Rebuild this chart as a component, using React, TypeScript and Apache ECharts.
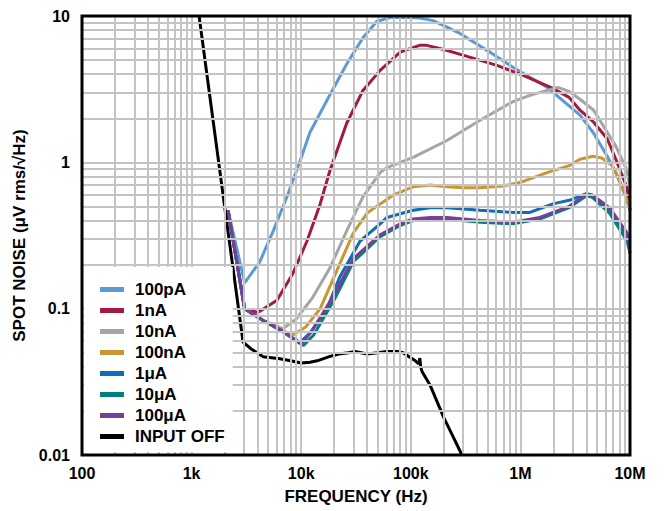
import React, { useEffect, useRef } from "react";
import * as echarts from "echarts";

const FONT = 'Arial, "Liberation Sans", sans-serif';

const seriesNames = ["100pA", "1nA", "10nA", "100nA", "1μA", "10μA", "100μA", "INPUT OFF"];
const seriesColors = ["#5B9BD5", "#A5193E", "#A5A5A5", "#C9972C", "#0F6DB8", "#00827A", "#773E9C", "#000000"];

// [frequency Hz, noise µV rms/√Hz]
const s100pA: [number, number][] = [
  [2150, 0.47], [3050, 0.15], [4200, 0.21], [5560, 0.34], [7400, 0.58], [9800, 1.03],
  [12000, 1.6], [18300, 2.9], [26000, 4.7], [36600, 7.1], [49000, 9.2], [65000, 9.75],
  [90000, 9.8], [120000, 9.7], [160000, 9.3], [214000, 8.4], [281000, 7.6], [500000, 5.8],
  [855000, 4.46], [1750000, 3.26], [3500000, 2.1], [4660000, 1.58], [6200000, 1.1],
  [7500000, 0.84], [9400000, 0.55], [10000000, 0.47],
];
const s1nA: [number, number][] = [
  [2150, 0.47], [3050, 0.1], [4030, 0.094], [6010, 0.114], [8400, 0.174], [11300, 0.29],
  [14900, 0.52], [18300, 0.88], [22400, 1.35], [26000, 1.85], [36600, 3.1], [52500, 4.25],
  [80000, 5.66], [120000, 6.3], [140000, 6.3], [200000, 5.9], [299000, 5.4], [611000, 4.6],
  [1060000, 3.93], [1980000, 3.2], [2780000, 2.78], [3500000, 2.27], [4660000, 1.88],
  [6200000, 1.45], [7500000, 1.03], [9400000, 0.67], [10000000, 0.47],
];
const s10nA: [number, number][] = [
  [2150, 0.47], [3050, 0.1], [4500, 0.083], [6800, 0.073], [9000, 0.085], [12800, 0.12],
  [18300, 0.19], [26000, 0.34], [36600, 0.58], [52500, 0.85], [60600, 0.92], [105000, 1.08],
  [214000, 1.41], [428000, 1.94], [855000, 2.6], [1220000, 2.87], [2200000, 3.25],
  [2780000, 3.05], [3500000, 2.7], [4660000, 2.27], [6900000, 1.41], [7500000, 1.27],
  [9400000, 0.88], [10000000, 0.67],
];
const s100nA: [number, number][] = [
  [2150, 0.47], [3050, 0.1], [4500, 0.083], [6500, 0.072], [8400, 0.066], [11000, 0.075],
  [14900, 0.1], [21000, 0.18], [29900, 0.33], [40000, 0.45], [52500, 0.52], [70000, 0.6],
  [105000, 0.68], [150000, 0.7], [214000, 0.68], [300000, 0.67], [428000, 0.67],
  [700000, 0.69], [1000000, 0.73], [1750000, 0.85], [2780000, 0.95], [3500000, 1.05],
  [4600000, 1.1], [5500000, 1.07], [6900000, 0.95], [8600000, 0.67], [10000000, 0.48],
];
const s1uA: [number, number][] = [
  [2150, 0.47], [3050, 0.1], [4500, 0.083], [6500, 0.071], [8000, 0.064], [9800, 0.059],
  [12000, 0.068], [17200, 0.1], [22400, 0.164], [34500, 0.29], [52500, 0.38], [60600, 0.42],
  [105000, 0.47], [150000, 0.49], [214000, 0.49], [428000, 0.47], [855000, 0.455],
  [1220000, 0.455], [1980000, 0.52], [2780000, 0.55], [4000000, 0.61], [5000000, 0.55],
  [6900000, 0.45], [9400000, 0.3], [10000000, 0.27],
];
const s10uA: [number, number][] = [
  [2150, 0.47], [3050, 0.1], [4500, 0.083], [6800, 0.07], [10500, 0.056], [13000, 0.066],
  [20000, 0.115], [30000, 0.21], [52500, 0.31], [80000, 0.37], [105000, 0.4], [150000, 0.415],
  [214000, 0.41], [428000, 0.39], [855000, 0.38], [1500000, 0.41], [2780000, 0.49],
  [4000000, 0.59], [4500000, 0.58], [6500000, 0.45], [9400000, 0.29], [10000000, 0.24],
];
const s100uA: [number, number][] = [
  [2150, 0.47], [3050, 0.1], [4500, 0.083], [6800, 0.07], [10000, 0.057], [12500, 0.07],
  [19400, 0.12], [29900, 0.22], [52500, 0.32], [80000, 0.38], [105000, 0.41], [150000, 0.42],
  [214000, 0.42], [428000, 0.4], [855000, 0.39], [1500000, 0.42], [2780000, 0.5],
  [4000000, 0.61], [4500000, 0.6], [6500000, 0.49], [9400000, 0.33], [10000000, 0.24],
];
const sInputOff: [number, number][] = [
  [1170, 10], [2000, 0.5], [2950, 0.059], [3500, 0.053], [4500, 0.047], [6400, 0.0455],
  [8000, 0.044], [10000, 0.0425], [12000, 0.043], [14000, 0.044], [18000, 0.047],
  [22000, 0.049], [27000, 0.05], [31000, 0.051], [40000, 0.049], [50000, 0.05],
  [60000, 0.051], [75000, 0.051], [85000, 0.05], [98000, 0.0465], [110000, 0.044],
  [118000, 0.042], [121000, 0.046], [123000, 0.04], [127000, 0.037], [150000, 0.03],
  [200000, 0.018], [250000, 0.0128], [293000, 0.01],
];
const seriesData = [s100pA, s1nA, s10nA, s100nA, s1uA, s10uA, s100uA, sInputOff];

const xTickValues = [100, 1e3, 1e4, 1e5, 1e6, 1e7];
const xTickLabels = ["100", "1k", "10k", "100k", "1M", "10M"];
const yTickValues = [0.01, 0.1, 1, 10];
const yTickLabels = ["0.01", "0.1", "1", "10"];
const gridMultipliers = [1, 2, 3, 4, 5, 6, 7, 8, 9];

function tickLabel(values: number[], labels: string[], v: number): string {
  const i = values.findIndex((t) => Math.abs(Math.log10(t) - Math.log10(v)) < 1e-6);
  return i >= 0 ? labels[i] : "";
}

function gridValues(decades: number[], min: number): number[] {
  const out: number[] = [];
  decades.forEach((d) => gridMultipliers.forEach((m) => {
    const v = d * m;
    if (v > min * 1.0001) out.push(v);
  }));
  return out;
}

export default function App() {
  const ref = useRef<HTMLDivElement>(null);
  useEffect(() => {
    if (!ref.current) return;
    const chart = echarts.init(ref.current, undefined, { renderer: "svg" });
    const xGrid = gridValues(xTickValues.slice(0, -1), xTickValues[0]);
    const yGrid = gridValues(yTickValues.slice(0, -1), yTickValues[0]);
    const gridLineStyle = { color: "#c4c4c4", width: 2, type: "solid" as const };
    const textBase = { fontFamily: FONT, fontWeight: "bold" as const, color: "#000" };
    const option: any = {
      animation: false,
      backgroundColor: "#fff",
      grid: {
        left: 82, right: 34, top: 16, bottom: 56,
        show: true, z: 10, backgroundColor: "transparent",
        borderColor: "#000", borderWidth: 3,
      },
      legend: {
        orient: "vertical",
        left: 84,
        top: 267,
        data: seriesNames.map((n) => ({ name: n, icon: "rect" })),
        itemWidth: 24,
        itemHeight: 5,
        itemGap: 4,
        backgroundColor: "#fff",
        padding: [14, 8, 7, 16],
        z: 6,
        textStyle: { ...textBase, fontSize: 17, padding: [0, 0, 0, 6] },
      },
      xAxis: {
        type: "log",
        logBase: 10,
        min: 100,
        max: 1e7,
        name: "FREQUENCY (Hz)",
        nameLocation: "middle",
        nameGap: 33,
        nameTextStyle: { ...textBase, fontSize: 17 },
        axisLine: { show: false },
        axisTick: { show: false },
        splitLine: { show: false },
        axisLabel: {
          margin: 10,
          ...textBase,
          fontSize: 16,
          formatter: (v: number) => tickLabel(xTickValues, xTickLabels, v),
        },
      },
      yAxis: {
        type: "log",
        logBase: 10,
        min: 0.01,
        max: 10,
        name: "SPOT NOISE (μV rms/√Hz)",
        nameLocation: "middle",
        nameGap: 43,
        nameRotate: 90,
        nameTextStyle: { ...textBase, fontSize: 17 },
        axisLine: { show: false },
        axisTick: { show: false },
        splitLine: { show: false },
        axisLabel: {
          margin: 12,
          ...textBase,
          fontSize: 16,
          formatter: (v: number) => tickLabel(yTickValues, yTickLabels, v),
        },
      },
      series: [
        {
          name: "__grid",
          type: "line",
          data: [],
          z: 1,
          silent: true,
          markLine: {
            silent: true,
            symbol: "none",
            label: { show: false },
            lineStyle: gridLineStyle,
            emphasis: { disabled: true },
            data: [
              ...xGrid.map((v) => ({ xAxis: v })),
              ...yGrid.map((v) => ({ yAxis: v })),
            ],
          },
        },
        ...seriesNames.map((name, i) => ({
          name,
          type: "line",
          data: seriesData[i],
          color: seriesColors[i],
          showSymbol: false,
          symbol: "none",
          z: 3,
          lineStyle: { width: 3, color: seriesColors[i] },
          emphasis: { disabled: true },
        })),
      ],
    };
    chart.setOption(option);
    return () => chart.dispose();
  }, []);
  return (
    <div
      ref={ref}
      style={{ position: "fixed", left: 0, top: 0, width: 664, height: 511, background: "#fff" }}
    />
  );
}
